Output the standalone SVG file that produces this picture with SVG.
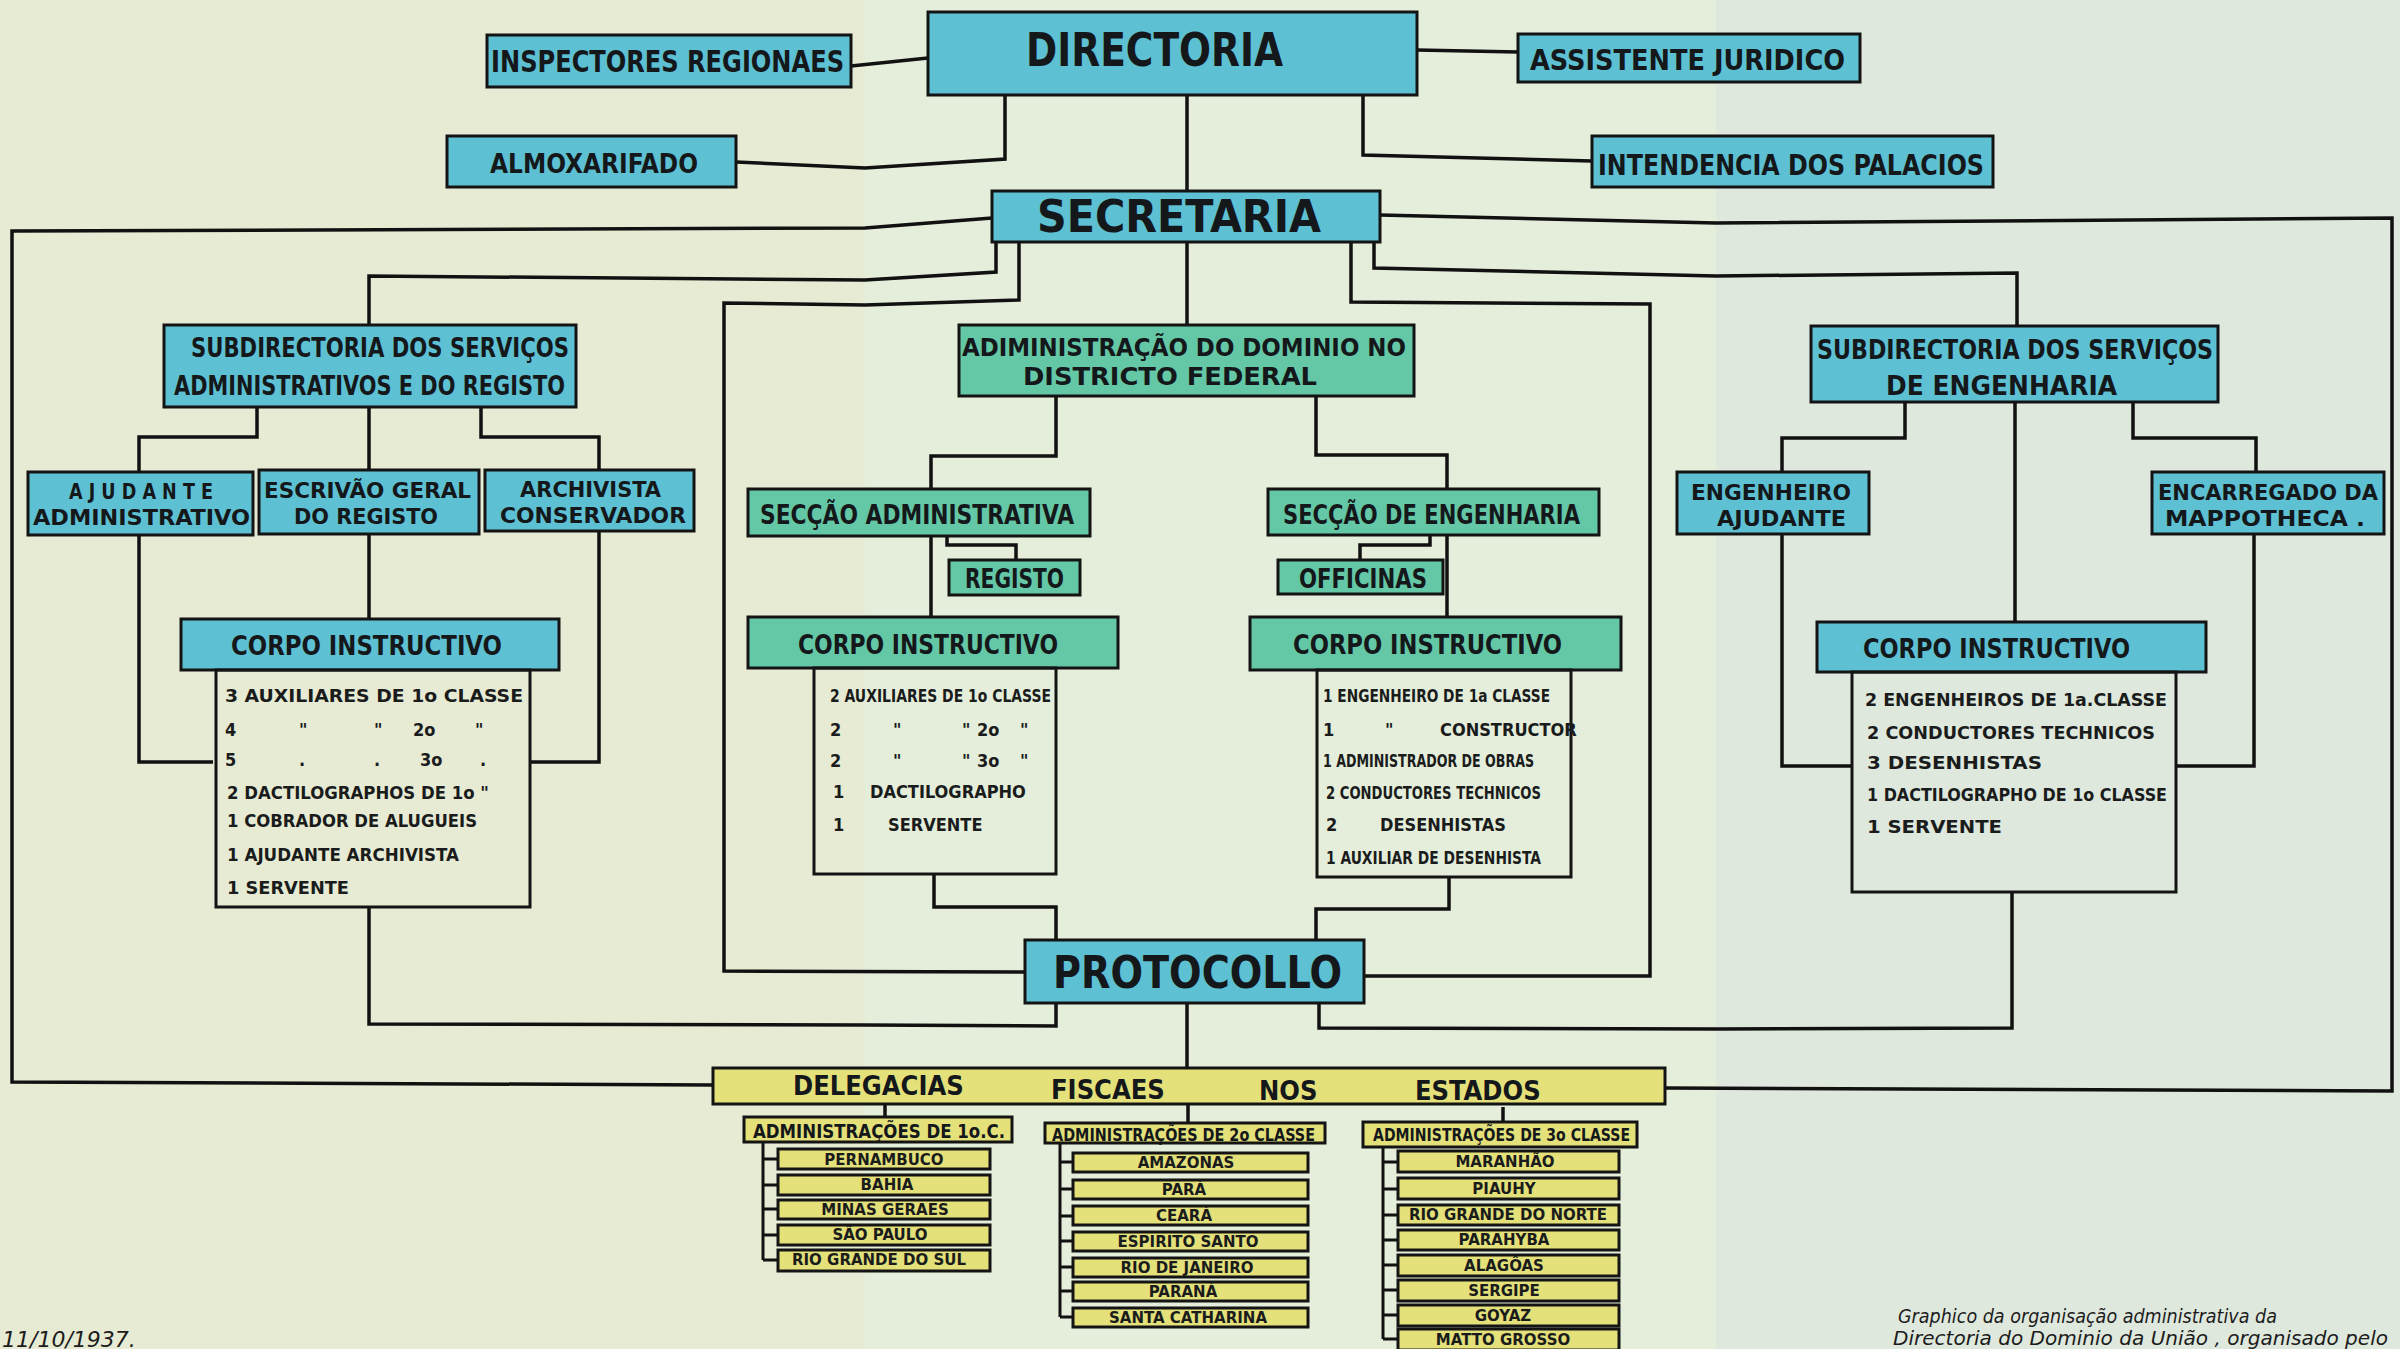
<svg xmlns="http://www.w3.org/2000/svg" width="2400" height="1349" viewBox="0 0 2400 1349">
<style>
.n{stroke:#141414;stroke-width:3}
.blue{fill:#5ec0d3}
.green{fill:#64c7a6}
.yel{fill:#e4e07a}
.list{fill:none}
.t{font-family:"DejaVu Sans Condensed","DejaVu Sans","Liberation Sans",sans-serif;font-weight:bold;fill:#14181a}
.s{font-family:"DejaVu Sans Condensed","DejaVu Sans","Liberation Sans",sans-serif;font-weight:bold;fill:#1a1c1c;font-size:18px}
.st{font-family:"DejaVu Sans","Liberation Sans",sans-serif;font-weight:bold;fill:#1a1c1c;font-size:15px;text-anchor:middle}
.hw{font-family:"DejaVu Sans","Liberation Sans",sans-serif;font-style:italic;fill:#1c1c1c}
.c{fill:none;stroke:#111;stroke-width:3.5;stroke-linejoin:miter}
.c2{fill:none;stroke:#111;stroke-width:3}
</style>
<rect x="0" y="0" width="2400" height="1349" fill="#e5ecd8"/>
<rect x="0" y="0" width="865" height="1349" fill="#e7ebd4"/>
<rect x="865" y="0" width="851" height="1349" fill="#e5eedb"/>
<rect x="1716" y="0" width="684" height="1349" fill="#dfe8dc"/>

<g id="connectors">
<polyline class="c" points="851,66 928,58"/>
<polyline class="c" points="1417,50 1518,52"/>
<polyline class="c" points="736,162 865,168 1005,159 1005,95"/>
<polyline class="c" points="1363,95 1363,155 1592,161"/>
<polyline class="c" points="1187,95 1187,190"/>
<polyline class="c" points="992,218 865,228 12,231 12,1082 713,1085"/>
<polyline class="c" points="1380,215 1716,223 2392,218 2392,1091 1665,1088"/>
<polyline class="c" points="996,242 996,272 865,280 369,276 369,324"/>
<polyline class="c" points="1374,242 1374,268 1716,276 2017,273 2017,325"/>
<polyline class="c" points="1019,242 1019,300 865,305 724,303 724,971 1025,972"/>
<polyline class="c" points="1351,242 1351,302 1650,304 1650,976 1364,976"/>
<polyline class="c" points="1187,242 1187,324"/>
<polyline class="c" points="257,408 257,437 139,437 139,472"/>
<polyline class="c" points="369,408 369,470"/>
<polyline class="c" points="481,408 481,437 599,437 599,470"/>
<polyline class="c" points="369,534 369,618"/>
<polyline class="c" points="139,536 139,762 213,762"/>
<polyline class="c" points="599,531 599,762 530,762"/>
<polyline class="c" points="369,907 369,1024 865,1025 1056,1026 1056,1003"/>
<polyline class="c" points="1056,396 1056,456 931,456 931,488"/>
<polyline class="c" points="1316,396 1316,455 1447,455 1447,488"/>
<polyline class="c" points="931,536 931,616"/>
<polyline class="c" points="947,536 947,545 1016,545 1016,559"/>
<polyline class="c" points="1447,535 1447,616"/>
<polyline class="c" points="1430,535 1430,545 1360,545 1360,559"/>
<polyline class="c" points="934,874 934,907 1056,907 1056,940"/>
<polyline class="c" points="1449,877 1449,909 1316,909 1316,940"/>
<polyline class="c" points="1319,1003 1319,1028 1716,1029 2012,1028 2012,892"/>
<polyline class="c" points="1187,1003 1187,1068"/>
<polyline class="c" points="1905,402 1905,438 1782,438 1782,471"/>
<polyline class="c" points="2015,402 2015,622"/>
<polyline class="c" points="2133,402 2133,438 2256,438 2256,471"/>
<polyline class="c" points="1782,534 1782,766 1852,766"/>
<polyline class="c" points="2254,534 2254,766 2176,766"/>
<polyline class="c" points="885,1103 885,1117"/>
<polyline class="c" points="1188,1105 1188,1123"/>
<polyline class="c" points="1503,1107 1503,1122"/>
<polyline class="c2" points="763,1142 763,1260"/>
<path class="c2" d="M763,1159H778M763,1185H778M763,1209H778M763,1235H778M763,1260H778"/>
<polyline class="c2" points="1060,1143 1060,1317"/>
<path class="c2" d="M1060,1162H1073M1060,1189H1073M1060,1216H1073M1060,1241H1073M1060,1267H1073M1060,1291H1073M1060,1317H1073"/>
<polyline class="c2" points="1383,1147 1383,1339"/>
<path class="c2" d="M1383,1162H1398M1383,1189H1398M1383,1215H1398M1383,1240H1398M1383,1265H1398M1383,1290H1398M1383,1315H1398M1383,1339H1398"/>
</g>

<g id="directoria"><rect class="n blue" x="928" y="12" width="489" height="83"/><text class="t" x="1026" y="66" font-size="46" textLength="257" lengthAdjust="spacingAndGlyphs">DIRECTORIA</text></g>
<g id="inspectores"><rect class="n blue" x="487" y="35" width="364" height="52"/><text class="t" x="491" y="72" font-size="30" textLength="353" lengthAdjust="spacingAndGlyphs">INSPECTORES REGIONAES</text></g>
<g id="assistente"><rect class="n blue" x="1518" y="34" width="342" height="48"/><text class="t" x="1530" y="70" font-size="29" textLength="315" lengthAdjust="spacingAndGlyphs">ASSISTENTE  JURIDICO</text></g>
<g id="almoxarifado"><rect class="n blue" x="447" y="136" width="289" height="51"/><text class="t" x="490" y="173" font-size="27" textLength="208" lengthAdjust="spacingAndGlyphs">ALMOXARIFADO</text></g>
<g id="intendencia"><rect class="n blue" x="1592" y="136" width="401" height="51"/><text class="t" x="1598" y="175" font-size="28" textLength="386" lengthAdjust="spacingAndGlyphs">INTENDENCIA DOS PALACIOS</text></g>
<g id="secretaria"><rect class="n blue" x="992" y="191" width="388" height="51"/><text class="t" x="1037" y="232" font-size="45" textLength="284" lengthAdjust="spacingAndGlyphs">SECRETARIA</text></g>

<g id="subdir-adm"><rect class="n blue" x="164" y="325" width="412" height="82"/>
<text class="t" x="191" y="357" font-size="26" textLength="378" lengthAdjust="spacingAndGlyphs">SUBDIRECTORIA DOS SERVIÇOS</text>
<text class="t" x="174" y="395" font-size="26" textLength="391" lengthAdjust="spacingAndGlyphs">ADMINISTRATIVOS E DO REGISTO</text></g>
<g id="ajudante"><rect class="n blue" x="28" y="472" width="225" height="63"/>
<text class="t" x="69" y="499" font-size="22" textLength="144" lengthAdjust="spacingAndGlyphs">A J U D A N T E</text>
<text class="t" x="33" y="525" font-size="22" textLength="217" lengthAdjust="spacingAndGlyphs">ADMINISTRATIVO</text></g>
<g id="escrivao"><rect class="n blue" x="259" y="470" width="220" height="64"/>
<text class="t" x="264" y="498" font-size="22" textLength="207" lengthAdjust="spacingAndGlyphs">ESCRIVÃO GERAL</text>
<text class="t" x="294" y="524" font-size="22" textLength="144" lengthAdjust="spacingAndGlyphs">DO REGISTO</text></g>
<g id="archivista"><rect class="n blue" x="485" y="470" width="209" height="61"/>
<text class="t" x="520" y="497" font-size="22" textLength="141" lengthAdjust="spacingAndGlyphs">ARCHIVISTA</text>
<text class="t" x="500" y="523" font-size="22" textLength="186" lengthAdjust="spacingAndGlyphs">CONSERVADOR</text></g>
<g id="corpo-adm"><rect class="n blue" x="181" y="619" width="378" height="51"/>
<text class="t" x="231" y="655" font-size="27" textLength="271" lengthAdjust="spacingAndGlyphs">CORPO  INSTRUCTIVO</text>
<rect class="n list" x="216" y="670" width="314" height="237"/>
<text class="s" x="225" y="702" textLength="298" lengthAdjust="spacingAndGlyphs">3 AUXILIARES DE  1o CLASSE</text>
<text class="s" y="736"><tspan x="225">4</tspan><tspan x="299">"</tspan><tspan x="374">"</tspan><tspan x="413">2o</tspan><tspan x="475">"</tspan></text>
<text class="s" y="766"><tspan x="225">5</tspan><tspan x="299">.</tspan><tspan x="374">.</tspan><tspan x="420">3o</tspan><tspan x="480">.</tspan></text>
<text class="s" x="227" y="799" textLength="262" lengthAdjust="spacingAndGlyphs">2 DACTILOGRAPHOS DE 1o  "</text>
<text class="s" x="227" y="827" textLength="250" lengthAdjust="spacingAndGlyphs">1 COBRADOR DE ALUGUEIS</text>
<text class="s" x="227" y="861" textLength="232" lengthAdjust="spacingAndGlyphs">1 AJUDANTE  ARCHIVISTA</text>
<text class="s" x="227" y="894" textLength="122" lengthAdjust="spacingAndGlyphs">1 SERVENTE</text></g>

<g id="adm-dominio"><rect class="n green" x="959" y="325" width="455" height="71"/>
<text class="t" x="962" y="356" font-size="24" textLength="444" lengthAdjust="spacingAndGlyphs">ADIMINISTRAÇÃO DO DOMINIO  NO</text>
<text class="t" x="1023" y="385" font-size="24" textLength="294" lengthAdjust="spacingAndGlyphs">DISTRICTO  FEDERAL</text></g>
<g id="seccao-adm"><rect class="n green" x="748" y="489" width="342" height="47"/>
<text class="t" x="760" y="524" font-size="27" textLength="314" lengthAdjust="spacingAndGlyphs">SECÇÃO  ADMINISTRATIVA</text></g>
<g id="registo"><rect class="n green" x="949" y="560" width="131" height="35"/>
<text class="t" x="965" y="588" font-size="26" textLength="99" lengthAdjust="spacingAndGlyphs">REGISTO</text></g>
<g id="corpo-seccao-adm"><rect class="n green" x="748" y="617" width="370" height="51"/>
<text class="t" x="798" y="654" font-size="27" textLength="260" lengthAdjust="spacingAndGlyphs">CORPO INSTRUCTIVO</text>
<rect class="n list" x="814" y="668" width="242" height="206"/>
<text class="s" x="830" y="702" textLength="221" lengthAdjust="spacingAndGlyphs">2 AUXILIARES DE 1o CLASSE</text>
<text class="s" y="736"><tspan x="830">2</tspan><tspan x="893">"</tspan><tspan x="962">"</tspan><tspan x="977">2o</tspan><tspan x="1020">"</tspan></text>
<text class="s" y="767"><tspan x="830">2</tspan><tspan x="893">"</tspan><tspan x="962">"</tspan><tspan x="977">3o</tspan><tspan x="1020">"</tspan></text>
<text class="s" y="798"><tspan x="833">1</tspan><tspan x="870">DACTILOGRAPHO</tspan></text>
<text class="s" y="831"><tspan x="833">1</tspan><tspan x="888">SERVENTE</tspan></text></g>

<g id="seccao-eng"><rect class="n green" x="1268" y="489" width="331" height="46"/>
<text class="t" x="1283" y="524" font-size="27" textLength="297" lengthAdjust="spacingAndGlyphs">SECÇÃO DE ENGENHARIA</text></g>
<g id="officinas"><rect class="n green" x="1278" y="560" width="165" height="34"/>
<text class="t" x="1299" y="588" font-size="26" textLength="128" lengthAdjust="spacingAndGlyphs">OFFICINAS</text></g>
<g id="corpo-seccao-eng"><rect class="n green" x="1250" y="617" width="371" height="53"/>
<text class="t" x="1293" y="654" font-size="27" textLength="269" lengthAdjust="spacingAndGlyphs">CORPO  INSTRUCTIVO</text>
<rect class="n list" x="1317" y="670" width="254" height="207"/>
<text class="s" x="1323" y="702" textLength="227" lengthAdjust="spacingAndGlyphs">1 ENGENHEIRO  DE 1a CLASSE</text>
<text class="s" y="736"><tspan x="1323">1</tspan><tspan x="1385">"</tspan><tspan x="1440">CONSTRUCTOR</tspan></text>
<text class="s" x="1323" y="767" textLength="211" lengthAdjust="spacingAndGlyphs">1 ADMINISTRADOR DE OBRAS</text>
<text class="s" x="1326" y="799" textLength="215" lengthAdjust="spacingAndGlyphs">2 CONDUCTORES  TECHNICOS</text>
<text class="s" y="831"><tspan x="1326">2</tspan><tspan x="1380">DESENHISTAS</tspan></text>
<text class="s" x="1326" y="864" textLength="215" lengthAdjust="spacingAndGlyphs">1 AUXILIAR DE DESENHISTA</text></g>

<g id="subdir-eng"><rect class="n blue" x="1811" y="326" width="407" height="76"/>
<text class="t" x="1817" y="359" font-size="26" textLength="396" lengthAdjust="spacingAndGlyphs">SUBDIRECTORIA  DOS SERVIÇOS</text>
<text class="t" x="1886" y="395" font-size="26" textLength="231" lengthAdjust="spacingAndGlyphs">DE  ENGENHARIA</text></g>
<g id="engenheiro"><rect class="n blue" x="1677" y="472" width="192" height="62"/>
<text class="t" x="1691" y="500" font-size="22" textLength="160" lengthAdjust="spacingAndGlyphs">ENGENHEIRO</text>
<text class="t" x="1717" y="526" font-size="22" textLength="129" lengthAdjust="spacingAndGlyphs">AJUDANTE</text></g>
<g id="encarregado"><rect class="n blue" x="2152" y="472" width="232" height="62"/>
<text class="t" x="2158" y="500" font-size="22" textLength="220" lengthAdjust="spacingAndGlyphs">ENCARREGADO DA</text>
<text class="t" x="2165" y="526" font-size="22" textLength="200" lengthAdjust="spacingAndGlyphs">MAPPOTHECA  .</text></g>
<g id="corpo-eng"><rect class="n blue" x="1817" y="622" width="389" height="50"/>
<text class="t" x="1863" y="658" font-size="27" textLength="267" lengthAdjust="spacingAndGlyphs">CORPO INSTRUCTIVO</text>
<rect class="n list" x="1852" y="672" width="324" height="220"/>
<text class="s" x="1865" y="706" textLength="302" lengthAdjust="spacingAndGlyphs">2 ENGENHEIROS  DE 1a.CLASSE</text>
<text class="s" x="1867" y="739" textLength="288" lengthAdjust="spacingAndGlyphs">2 CONDUCTORES  TECHNICOS</text>
<text class="s" x="1867" y="769" textLength="175" lengthAdjust="spacingAndGlyphs">3 DESENHISTAS</text>
<text class="s" x="1867" y="801" textLength="300" lengthAdjust="spacingAndGlyphs">1 DACTILOGRAPHO DE 1o CLASSE</text>
<text class="s" x="1867" y="833" textLength="135" lengthAdjust="spacingAndGlyphs">1 SERVENTE</text></g>

<g id="protocollo"><rect class="n blue" x="1025" y="940" width="339" height="63"/>
<text class="t" x="1053" y="988" font-size="45" textLength="289" lengthAdjust="spacingAndGlyphs">PROTOCOLLO</text></g>

<g id="delegacias"><rect class="n yel" x="713" y="1068" width="952" height="36"/>
<text class="t" font-size="27"><tspan x="793" y="1095">DELEGACIAS</tspan><tspan x="1051" y="1099">FISCAES</tspan><tspan x="1259" y="1100">NOS</tspan><tspan x="1415" y="1100">ESTADOS</tspan></text></g>

<g id="adm-1a"><rect class="n yel" x="744" y="1117" width="268" height="25"/>
<text class="t" x="753" y="1138" font-size="19" textLength="252" lengthAdjust="spacingAndGlyphs">ADMINISTRAÇÕES DE 1o.C.</text>
<rect class="n yel" x="778" y="1149" width="212" height="20"/><text class="st" x="884" y="1165">PERNAMBUCO</text>
<rect class="n yel" x="778" y="1175" width="212" height="20"/><text class="st" x="887" y="1190">BAHIA</text>
<rect class="n yel" x="778" y="1200" width="212" height="19"/><text class="st" x="885" y="1215">MINAS GERAES</text>
<rect class="n yel" x="778" y="1225" width="212" height="20"/><text class="st" x="880" y="1240">SÃO PAULO</text>
<rect class="n yel" x="778" y="1250" width="212" height="21"/><text class="st" x="879" y="1265">RIO GRANDE DO SUL</text></g>

<g id="adm-2a"><rect class="n yel" x="1045" y="1123" width="280" height="20"/>
<text class="t" x="1052" y="1141" font-size="18" textLength="263" lengthAdjust="spacingAndGlyphs">ADMINISTRAÇÕES DE 2o CLASSE</text>
<rect class="n yel" x="1073" y="1153" width="235" height="19"/><text class="st" x="1186" y="1168">AMAZONAS</text>
<rect class="n yel" x="1073" y="1180" width="235" height="19"/><text class="st" x="1184" y="1195">PARÁ</text>
<rect class="n yel" x="1073" y="1206" width="235" height="19"/><text class="st" x="1184" y="1221">CEARÁ</text>
<rect class="n yel" x="1073" y="1232" width="235" height="19"/><text class="st" x="1188" y="1247">ESPIRITO SANTO</text>
<rect class="n yel" x="1073" y="1258" width="235" height="19"/><text class="st" x="1187" y="1273">RIO DE JANEIRO</text>
<rect class="n yel" x="1073" y="1282" width="235" height="19"/><text class="st" x="1183" y="1297">PARANÁ</text>
<rect class="n yel" x="1073" y="1308" width="235" height="19"/><text class="st" x="1188" y="1323">SANTA CATHARINA</text></g>

<g id="adm-3a"><rect class="n yel" x="1363" y="1122" width="274" height="25"/>
<text class="t" x="1373" y="1141" font-size="18" textLength="257" lengthAdjust="spacingAndGlyphs">ADMINISTRAÇÕES DE 3o CLASSE</text>
<rect class="n yel" x="1398" y="1151" width="221" height="21"/><text class="st" x="1505" y="1167">MARANHÃO</text>
<rect class="n yel" x="1398" y="1178" width="221" height="21"/><text class="st" x="1504" y="1194">PIAUHY</text>
<rect class="n yel" x="1398" y="1205" width="221" height="20"/><text class="st" x="1508" y="1220">RIO GRANDE DO NORTE</text>
<rect class="n yel" x="1398" y="1230" width="221" height="20"/><text class="st" x="1504" y="1245">PARAHYBA</text>
<rect class="n yel" x="1398" y="1255" width="221" height="21"/><text class="st" x="1504" y="1271">ALAGÔAS</text>
<rect class="n yel" x="1398" y="1280" width="221" height="21"/><text class="st" x="1504" y="1296">SERGIPE</text>
<rect class="n yel" x="1398" y="1305" width="221" height="21"/><text class="st" x="1503" y="1321">GOYAZ</text>
<rect class="n yel" x="1398" y="1329" width="221" height="21"/><text class="st" x="1503" y="1345">MATTO GROSSO</text></g>

<text class="hw" x="2" y="1347" font-size="22">11/10/1937.</text>
<text class="hw" x="1898" y="1323" font-size="20" textLength="379" lengthAdjust="spacingAndGlyphs">Graphico da organisação administrativa da</text>
<text class="hw" x="1893" y="1345" font-size="20" textLength="495" lengthAdjust="spacingAndGlyphs">Directoria do Dominio da União ,  organisado pelo</text>
</svg>
